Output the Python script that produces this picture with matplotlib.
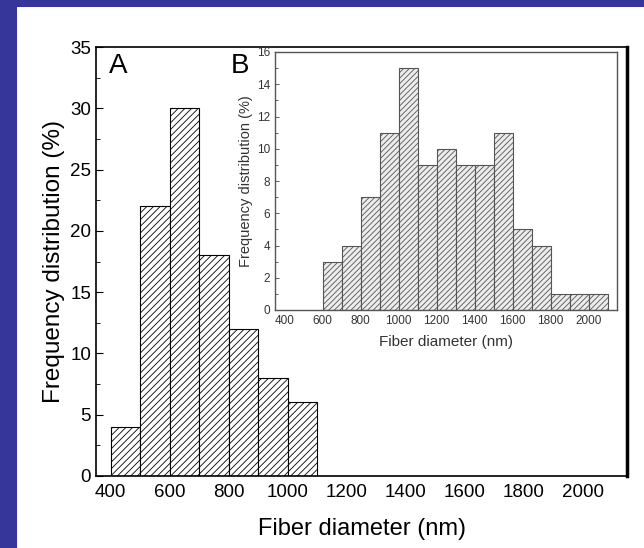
import numpy as np
import matplotlib.pyplot as plt
from matplotlib.patches import Rectangle

plt.rcParams['font.family'] = ['Liberation Sans', 'DejaVu Sans']
plt.rcParams['hatch.linewidth'] = 0.6

# data
main_left = [400, 500, 600, 700, 800, 900, 1000]
main_freq = [4, 22, 30, 18, 12, 8, 6]
inset_left = [600, 700, 800, 900, 1000, 1100, 1200, 1300, 1400, 1500,
              1600, 1700, 1800, 1900, 2000]
inset_freq = [3, 4, 7, 11, 15, 9, 10, 9, 9, 11, 5, 4, 1, 1, 1]
xticks = [400, 600, 800, 1000, 1200, 1400, 1600, 1800, 2000]

W, H = 644, 548
fig = plt.figure(figsize=(W / 100, H / 100), dpi=100, facecolor='#35359a')
fig.patches.append(Rectangle((17 / W, 0), 1 - 17 / W, 1 - 7 / H,
                             transform=fig.transFigure, facecolor='white',
                             edgecolor='none', zorder=-1))

# main histogram (A)
ax = fig.add_axes([96 / W, 1 - 476 / H, (627 - 96) / W, (476 - 47) / H])
ax.bar(main_left, main_freq, width=100, align='edge', color='white',
       edgecolor='black', hatch='/////', linewidth=0.8)
ax.set_xlim(350, 2150)
ax.set_ylim(0, 35)
ax.set_xticks(xticks)
ax.set_yticks(np.arange(0, 36, 5))
ax.set_yticks(np.arange(2.5, 35, 5), minor=True)
ax.tick_params(direction='in', labelsize=13.5, length=5, width=0.8)
ax.tick_params(axis='x', length=0, pad=6)
ax.tick_params(which='minor', direction='in', length=3)
for s in ax.spines.values():
    s.set_linewidth(1.2)
ax.spines['right'].set_linewidth(2.5)
ax.set_xlabel('Fiber diameter (nm)', fontsize=17, labelpad=12)
ax.set_ylabel('Frequency distribution (%)', fontsize=17.5, labelpad=4)
ax.text(0.024, 0.985, 'A', transform=ax.transAxes, fontsize=20, va='top')
ax.text(0.254, 0.985, 'B', transform=ax.transAxes, fontsize=20, va='top')

# inset histogram (B)
ins = fig.add_axes([275 / W, 1 - 310 / H, (617 - 275) / W, (310 - 52) / H])
ins.bar(inset_left, inset_freq, width=100, align='edge', color='#ececec',
        edgecolor='#555555', hatch='//////', linewidth=0.8)
ins.set_xlim(350, 2150)
ins.set_ylim(0, 16)
ins.set_xticks(xticks)
ins.set_yticks(np.arange(0, 17, 2))
ins.set_yticks(np.arange(1, 16, 2), minor=True)
ins.tick_params(direction='in', labelsize=8.5, length=3, width=0.6,
                colors='#444444', labelcolor='#333333')
ins.tick_params(axis='x', length=0)
ins.tick_params(which='minor', direction='in', length=2, color='#444444')
for s in ins.spines.values():
    s.set_linewidth(1.0)
    s.set_color('#555555')
ins.set_xlabel('Fiber diameter (nm)', fontsize=11, color='#333333', labelpad=6)
ins.set_ylabel('Frequency distribution (%)', fontsize=10.5, color='#333333',
               labelpad=3)

fig.savefig('out.png', dpi=100, facecolor=fig.get_facecolor())
